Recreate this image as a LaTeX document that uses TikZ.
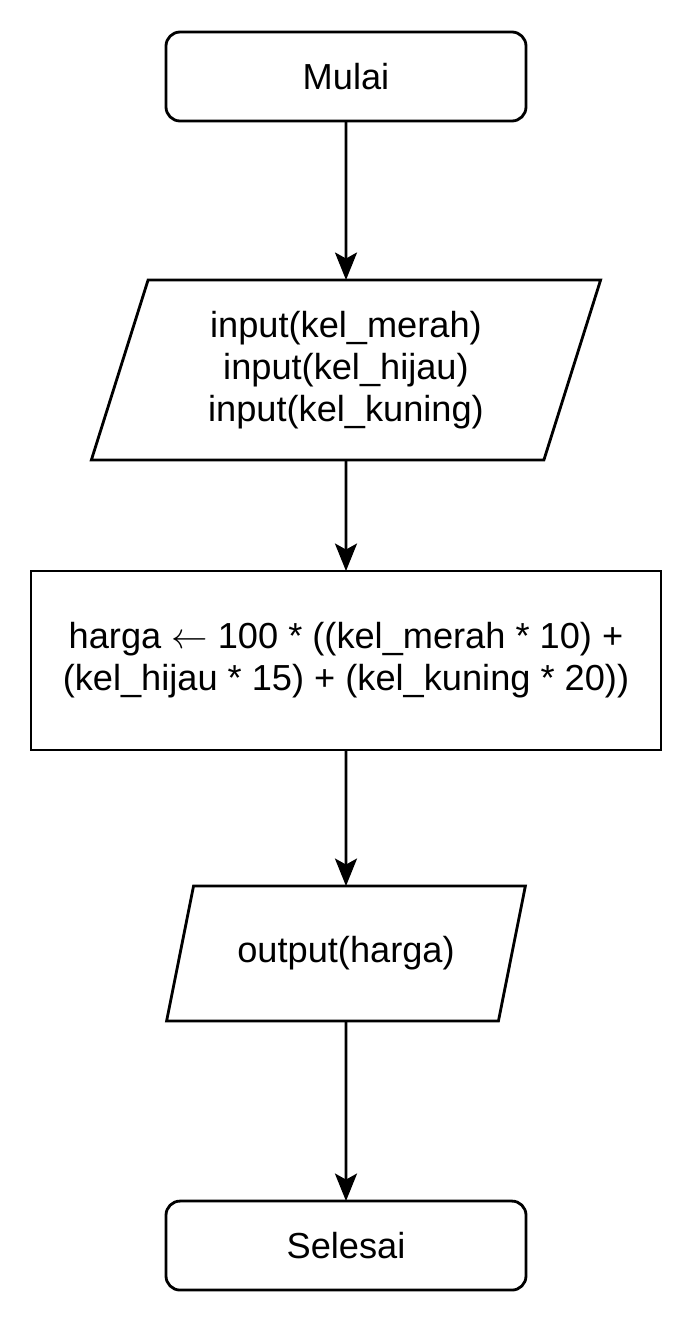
\documentclass[tikz,border=0pt]{standalone}
\usepackage{fontspec}
\setmainfont{Liberation Sans}
\usetikzlibrary{shapes.geometric, arrows.meta, positioning}

\begin{document}
\begin{tikzpicture}[
  term/.style={rectangle, draw, line width=1.6pt, outer sep=0pt, rounded corners=8pt, minimum width=7.2cm, minimum height=1.78cm, align=center, font=\fontsize{20.6}{24}\selectfont},
  io/.style={trapezium, draw, line width=1.6pt, outer sep=0pt, trapezium stretches=true, align=center, font=\fontsize{20.6}{24}\selectfont},
  proc/.style={rectangle, draw, line width=1.6pt, outer sep=0pt, minimum width=12.6cm, minimum height=3.58cm, align=center, font=\fontsize{20.6}{24}\selectfont},
  arrow/.style={-{Stealth[length=5.5mm, width=4.4mm, inset=1.2mm]}, line width=1.6pt}
]
  \useasboundingbox (0,0) rectangle (13.86,-26.46);

  % Start
  \node[term] (mulai) at (6.92, -1.53) {Mulai};

  % Input
  \node[io, below=3.18cm of mulai, minimum width=10.2cm, minimum height=3.6cm, trapezium left angle=72.4, trapezium right angle=107.6] (input) {input(kel\_merah)\\input(kel\_hijau)\\input(kel\_kuning)};

  % Process
  \node[proc, below=2.22cm of input] (hitung) {harga $\leftarrow$ 100 * ((kel\_merah * 10) +\\(kel\_hijau * 15) + (kel\_kuning * 20))};

  % Output
  \node[io, below=2.72cm of hitung, minimum width=7.18cm, minimum height=2.7cm, trapezium left angle=66, trapezium right angle=114] (output) {output(harga)};

  % End
  \node[term, below=3.6cm of output] (selesai) {Selesai};

  \draw[arrow] (mulai) -- (input);
  \draw[arrow] (input) -- (hitung);
  \draw[arrow] (hitung) -- (output);
  \draw[arrow] (output) -- (selesai);
\end{tikzpicture}
\end{document}
